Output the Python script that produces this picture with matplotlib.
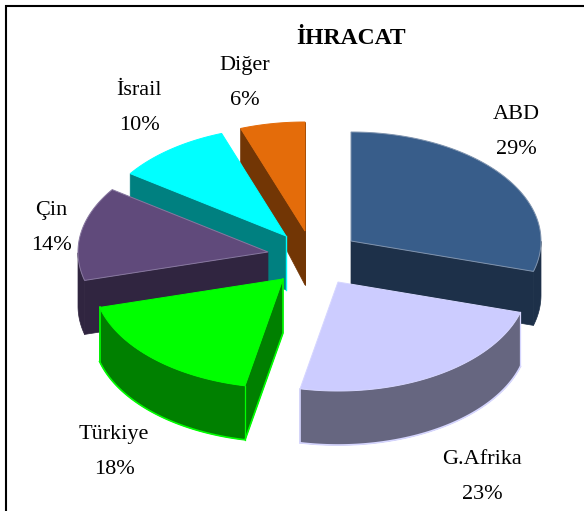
import numpy as np
import matplotlib
matplotlib.use("Agg")
import matplotlib.pyplot as plt
from matplotlib.patches import Polygon

# ---- data ----
categories = ["ABD", "G.Afrika", "Türkiye", "Çin", "İsrail", "Diğer"]
percent_labels = [29, 23, 18, 14, 10, 6]
# shares as they appear drawn on the picture (3-D view distorts the slices)
drawn_shares = [29.5, 23.7, 17.6, 13.9, 9.8, 5.5]
title = "İHRACAT"

# ---- style / layout ----
top_colors = ["#385D8A", "#CCCCFF", "#00FF00", "#604A7B", "#00FFFF", "#E46C0A"]
wall_colors = ["#1D3049", "#666680", "#008000", "#302540", "#008080", "#723605"]
edge_colors = ["#7F93AE", "#D6D6FF", "#00FF00", "#8878A0", "#00FFFF", "#E46C0A"]
explode_px = [(46, -14), (33, 27), (-22, 24), (-37, -3), (-19, -19), (0, -24)]
label_xy = [(516, 132), (482, 477), (114, 452), (51, 228), (139, 108), (245, 83)]
draw_order = [5, 4, 3, 2, 0, 1]
CENTER = (305, 255)
RX, RY = 190, 109


def depth(y):
    return np.clip(34 + (y - 129) * 0.2, 34, 54)


def down(p):
    return np.c_[p[:, 0], p[:, 1] + depth(p[:, 1])]


def cross(a, b):
    return a[0] * b[1] - a[1] * b[0]


def faces_viewer(a, p, inner):
    """A radial wall shows when the slice's inside lies above its top edge."""
    return cross(p - a, inner - a) * cross(p - a, np.array([0.0, 1.0])) < 0


W, H = 584, 511
fig = plt.figure(figsize=(W / 100, H / 100), dpi=100)
ax = fig.add_axes([0, 0, 1, 1])
ax.set_xlim(0, W)
ax.set_ylim(H, 0)
ax.axis("off")

ends = 90 - np.cumsum(drawn_shares) * 3.6
starts = np.r_[90, ends[:-1]]

for i in draw_order:
    cx, cy = CENTER[0] + explode_px[i][0], CENTER[1] + explode_px[i][1]
    t = np.radians(np.linspace(starts[i], ends[i], 120))
    rim = np.c_[cx + RX * np.cos(t), cy - RY * np.sin(t)]
    apex = np.array([[cx, cy]])
    rim_d, apex_d = down(rim), down(apex)
    wc = wall_colors[i]
    ec = edge_colors[i]
    inner = rim[len(rim) // 2]
    # radial walls that face the viewer
    for k in (0, -1):
        if faces_viewer(apex[0], rim[k], inner):
            ax.add_patch(Polygon(np.vstack([apex, rim[[k]], rim_d[[k]], apex_d]), closed=True,
                                 fc=wc, ec=wc, lw=0.5))
    # outer wall, front half of the ellipse only
    front = np.sin(t) <= 0
    if front.sum() > 1:
        ax.add_patch(Polygon(np.vstack([rim[front], rim_d[front][::-1]]), closed=True,
                             fc=wc, ec=wc, lw=0.5))
    # light outlines on the walls
    if i in (1, 2):
        line = rim_d
        if i == 2:
            line = np.vstack([apex, apex_d, rim_d])
        ax.plot(line[:, 0], line[:, 1], color=ec, lw=1.2)
        ax.plot([rim[-1, 0], rim_d[-1, 0]], [rim[-1, 1], rim_d[-1, 1]], color=ec, lw=1.2)
        ax.plot([rim[0, 0], rim_d[0, 0]], [rim[0, 1], rim_d[0, 1]], color=ec, lw=0.9)
    elif i == 4:
        ax.plot([apex[0, 0], apex_d[0, 0]], [apex[0, 1], apex_d[0, 1]], color=ec, lw=1.0)
    # top face
    ax.add_patch(Polygon(np.vstack([apex, rim]), closed=True, fc=top_colors[i], ec=ec, lw=0.7))

serif = "Liberation Serif"
for name, pct, (x, y) in zip(categories, percent_labels, label_xy):
    ax.text(x, y, f"{name}\n{pct}%", ha="center", va="center", family=serif,
            fontsize=16, color="black", linespacing=2.15)
ax.text(351, 38, title, ha="center", va="center", family=serif, fontsize=17,
        fontweight="bold", color="black")

# frame
ax.plot([6, 6], [H, 5], color="black", lw=1.5, solid_capstyle="butt")
ax.plot([5, W], [6, 6], color="black", lw=1.5, solid_capstyle="butt")

fig.savefig("out.png", dpi=100)
